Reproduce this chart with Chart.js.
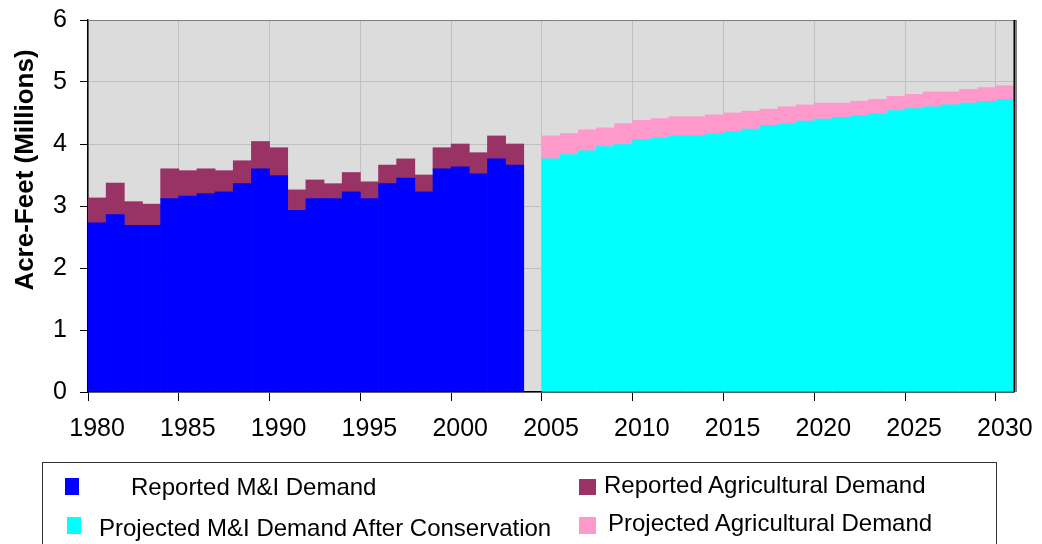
<!DOCTYPE html>
<html>
<head>
<meta charset="utf-8">
<script src="https://cdn.jsdelivr.net/npm/chart.js@4.4.1/dist/chart.umd.min.js"></script>
<style>
  body { margin: 0; background: #fff; }
  #wrap { position: relative; width: 1042px; height: 544px; overflow: hidden; }
  #legend { position: absolute; left: 42px; top: 462px; width: 953px; height: 100px;
            border: 1px solid #333; font-family: "Liberation Sans", Arial, sans-serif; font-size: 24px; }
  .sw { position: absolute; }
  .lt { position: absolute; line-height: 24px; white-space: nowrap; color: #000; }
</style>
</head>
<body>
<div id="wrap">
  <canvas id="demandChart" width="1042" height="544"></canvas>
  <div id="legend"></div>
</div>
<script>
const years = [
  "1980", "1981", "1982", "1983", "1984", "1985", "1986", "1987", "1988", "1989",
  "1990", "1991", "1992", "1993", "1994", "1995", "1996", "1997", "1998", "1999",
  "2000", "2001", "2002", "2003", "2004", "2005", "2006", "2007", "2008", "2009",
  "2010", "2011", "2012", "2013", "2014", "2015", "2016", "2017", "2018", "2019",
  "2020", "2021", "2022", "2023", "2024", "2025", "2026", "2027", "2028", "2029",
  "2030",
];

// 1980 - 2003 (millions of acre-feet)
const reportedMI = [2.73, 2.86, 2.69, 2.69, 3.12, 3.16, 3.20, 3.23, 3.36, 3.60,
  3.49, 2.93, 3.12, 3.12, 3.23, 3.12, 3.36, 3.45, 3.23, 3.60, 3.63, 3.52, 3.76, 3.66];
const reportedAg = [0.40, 0.51, 0.38, 0.34, 0.48, 0.41, 0.40, 0.34, 0.37, 0.44,
  0.45, 0.33, 0.30, 0.24, 0.31, 0.27, 0.30, 0.31, 0.27, 0.34, 0.37, 0.34, 0.37, 0.34];

// 2005 - 2030
const projectedMI = [3.76, 3.83, 3.89, 3.96, 3.99, 4.07, 4.10, 4.13, 4.13, 4.17,
  4.20, 4.24, 4.30, 4.33, 4.37, 4.40, 4.43, 4.46, 4.49, 4.54, 4.57, 4.60, 4.63, 4.66,
  4.69, 4.72];
const projectedAg = [0.37, 0.34, 0.34, 0.30, 0.34, 0.31, 0.31, 0.31, 0.31, 0.30,
  0.30, 0.29, 0.26, 0.27, 0.26, 0.26, 0.23, 0.23, 0.23, 0.23, 0.23, 0.24, 0.21, 0.22,
  0.22, 0.22];

const yTicks = [0, 1, 2, 3, 4, 5, 6];

const seriesNames = [
  "Reported M&I Demand",
  "Reported Agricultural Demand",
  "Projected M&I Demand After Conservation",
  "Projected Agricultural Demand",
];
const colors = ["#0000ff", "#993366", "#00ffff", "#ff99cc"];

// put each series on the full year axis (gap at 2004)
const gap = [null];
const pad = (n) => new Array(n).fill(null);
const mi1 = reportedMI.concat(gap, pad(projectedMI.length));
const ag1 = reportedAg.concat(gap, pad(projectedAg.length));
const mi2 = pad(reportedMI.length).concat(gap, projectedMI);
const ag2 = pad(reportedAg.length).concat(gap, projectedAg);

const font = "'Liberation Sans', Arial, sans-serif";
const fiveYear = (i) => Number(years[i]) % 5 === 0;

const plotBg = {
  id: "plotBg",
  beforeDraw(chart) {
    const { ctx, chartArea: a } = chart;
    ctx.save();
    ctx.fillStyle = "#dcdcdc";
    ctx.fillRect(a.left, a.top, a.right - a.left, a.bottom - a.top);
    ctx.restore();
  },
  afterDraw(chart) {
    const { ctx, chartArea: a } = chart;
    ctx.save();
    ctx.strokeStyle = "#808080";
    ctx.lineWidth = 1;
    ctx.beginPath();
    ctx.moveTo(a.left, a.top + 0.5);
    ctx.lineTo(a.right + 3, a.top + 0.5);
    ctx.moveTo(a.right + 2.5, a.top);
    ctx.lineTo(a.right + 2.5, a.bottom);
    ctx.stroke();
    ctx.strokeStyle = "#000";
    ctx.lineWidth = 2;
    ctx.beginPath();
    ctx.moveTo(a.right + 0.5, a.top);
    ctx.lineTo(a.right + 0.5, a.bottom);
    ctx.stroke();
    // y axis title
    ctx.fillStyle = "#000";
    ctx.font = "bold 26px " + font;
    ctx.translate(33, 170);
    ctx.rotate(-Math.PI / 2);
    ctx.textAlign = "center";
    ctx.textBaseline = "alphabetic";
    ctx.fillText("Acre-Feet (Millions)", 0, 0);
    ctx.restore();
  },
};

const data = {
  labels: years,
  datasets: [
    { label: seriesNames[0], data: mi1, backgroundColor: colors[0] },
    { label: seriesNames[1], data: ag1, backgroundColor: colors[1] },
    { label: seriesNames[2], data: mi2, backgroundColor: colors[2] },
    { label: seriesNames[3], data: ag2, backgroundColor: colors[3] },
  ],
};

const config = {
  type: "bar",
  data: data,
  plugins: [plotBg],
  options: {
    responsive: false,
    animation: false,
    layout: { padding: { left: 0, right: 28, top: 20, bottom: 0 } },
    datasets: {
      bar: { categoryPercentage: 1, barPercentage: 1, borderWidth: 0, stack: "s" },
    },
    plugins: { legend: { display: false }, tooltip: { enabled: false } },
    scales: {
      x: {
        stacked: true,
        afterFit: (s) => { s.height = 152; s.paddingLeft = 0; s.paddingRight = 0; },
        border: { color: "#000", width: 1.5 },
        grid: {
          offset: true,
          tickLength: 9,
          color: (c) => (c.index !== undefined && c.index % 5 === 0 ? "#c0c0c0" : "transparent"),
          tickColor: (c) => (c.index !== undefined && c.index % 5 === 0 ? "#000" : "transparent"),
        },
        ticks: {
          autoSkip: false,
          maxRotation: 0,
          padding: 13,
          color: "#000",
          font: { family: font, size: 25 },
          callback: (v, i) => (fiveYear(i) ? years[i] : ""),
        },
      },
      y: {
        stacked: true,
        min: yTicks[0],
        max: yTicks[yTicks.length - 1],
        afterFit: (s) => { s.width = 88; s.paddingTop = 0; s.paddingBottom = 0; },
        afterBuildTicks: (s) => { s.ticks = yTicks.map((v) => ({ value: v })); },
        border: { color: "#000", width: 1.5 },
        grid: { color: "#c0c0c0", tickColor: "#000", tickLength: 8 },
        ticks: {
          padding: 13,
          color: "#000",
          font: { family: font, size: 25 },
        },
      },
    },
  },
};

const myChart = new Chart(document.getElementById("demandChart"), config);

// legend in a framed box, two columns
const legendItems = [
  { i: 0, sw: [22, 15, 14, 17], tx: [88, 12] },
  { i: 1, sw: [536, 16, 17, 16], tx: [561, 10] },
  { i: 2, sw: [24, 54, 14, 17], tx: [56, 53] },
  { i: 3, sw: [536, 54, 17, 17], tx: [565, 48] },
];
const legendBox = document.getElementById("legend");
legendItems.forEach((it) => {
  const sw = document.createElement("div");
  sw.className = "sw";
  sw.style.cssText = `left:${it.sw[0]}px;top:${it.sw[1]}px;width:${it.sw[2]}px;height:${it.sw[3]}px;background:${colors[it.i]}`;
  const tx = document.createElement("div");
  tx.className = "lt";
  tx.style.left = it.tx[0] + "px";
  tx.style.top = it.tx[1] + "px";
  tx.textContent = seriesNames[it.i];
  legendBox.appendChild(sw);
  legendBox.appendChild(tx);
});
</script>
</body>
</html>
